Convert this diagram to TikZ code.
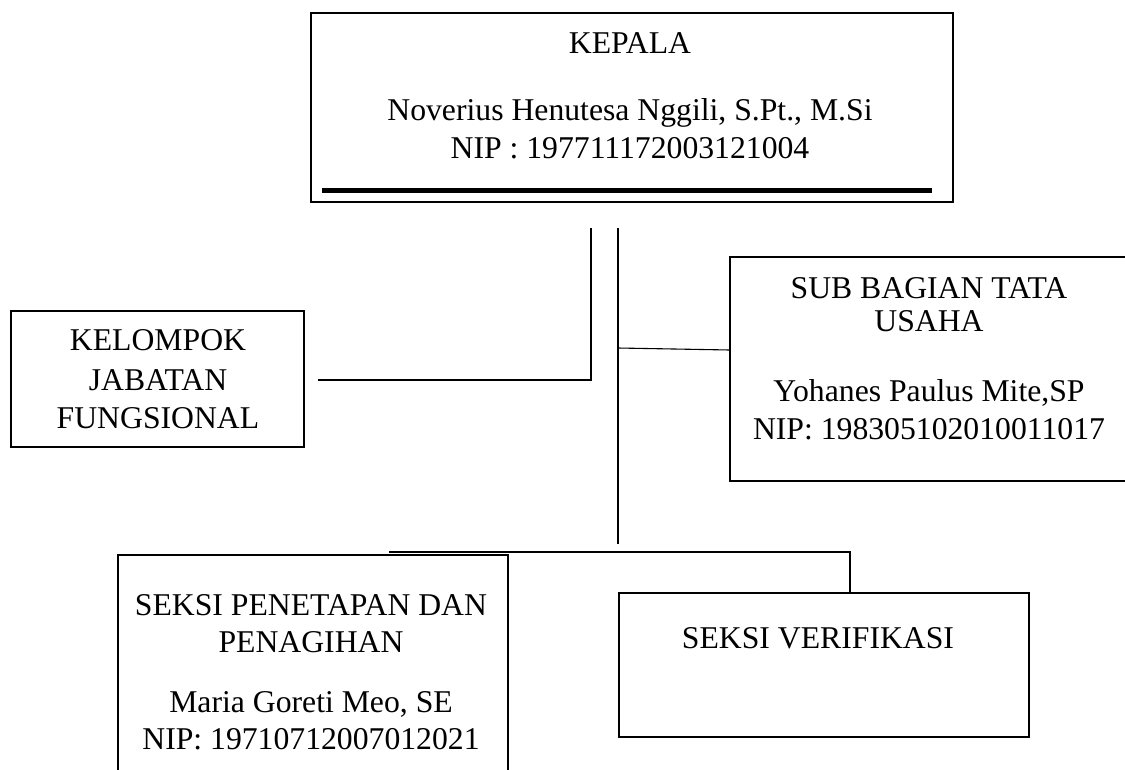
\documentclass[tikz,border=0pt]{standalone}
\usepackage{fontspec}
\setmainfont{Liberation Serif}
\begin{document}
\begin{tikzpicture}[x=1pt,y=-1pt,
  boxst/.style={draw, line width=1.6pt, inner sep=0pt, rectangle},
  txt/.style={anchor=base, inner sep=0pt, font=\fontsize{31.7}{38}\selectfont},
  conn/.style={line width=1.5pt},
  thin conn/.style={line width=1.1pt}]
\useasboundingbox (0,0) rectangle (1125,769);
% boxes
\node[boxst, minimum width=642pt, minimum height=189pt] (kepala) at (632,107.5) {};
\node[boxst, minimum width=293pt, minimum height=136pt] (kelompok) at (157.5,379) {};
\node[boxst, minimum width=420pt, minimum height=224pt] (sub) at (940,369) {};
\node[boxst, minimum width=390pt, minimum height=240pt] (penetapan) at (313,675) {};
\node[boxst, minimum width=410pt, minimum height=144pt] (verif) at (824,665) {};
% thick line inside kepala
\coordinate (tkL) at (322,190.5);
\coordinate (tkR) at (932,190.5);
\draw[line width=5pt] (tkL) -- (tkR);
% texts
\node[txt] (t1) at (630,53) {KEPALA};
\node[txt] (t2) at (630,120) {Noverius Henutesa Nggili, S.Pt., M.Si};
\node[txt] (t3) at (630,158) {NIP : 197711172003121004};
\node[txt] (k1) at (158,350) {KELOMPOK};
\node[txt] (k2) at (158,390) {JABATAN};
\node[txt] (k3) at (158,428) {FUNGSIONAL};
\node[txt] (s1) at (929,298) {SUB BAGIAN TATA};
\node[txt] (s2) at (929,331) {USAHA};
\node[txt] (s3) at (929,401) {Yohanes Paulus Mite,SP};
\node[txt] (s4) at (929,439) {NIP: 198305102010011017};
\node[txt] (p1) at (311,615) {SEKSI PENETAPAN DAN};
\node[txt] (p2) at (311,652) {PENAGIHAN};
\node[txt] (p3) at (311,712) {Maria Goreti Meo, SE};
\node[txt] (p4) at (311,749) {NIP: 19710712007012021};
\node[txt] (v1) at (818,648) {SEKSI VERIFIKASI};
% connectors
\coordinate (vL) at (591,228);
\coordinate (vLend) at (591,380);
\coordinate (hLend) at (318,380);
\draw[conn] (vL) -- (vLend) -- (hLend);
\coordinate (vR) at (618,228);
\coordinate (vRend) at (618,544);
\draw[conn] (vR) -- (vRend);
\coordinate (br) at (618,348);
\coordinate (subin) at (730,350);
\draw[thin conn] (br) -- (subin);
\coordinate (cL) at (389,552);
\coordinate (cR) at (850,552);
\draw[conn] (cL) -- (cR) -- (cR |- verif.north);
\end{tikzpicture}
\end{document}
